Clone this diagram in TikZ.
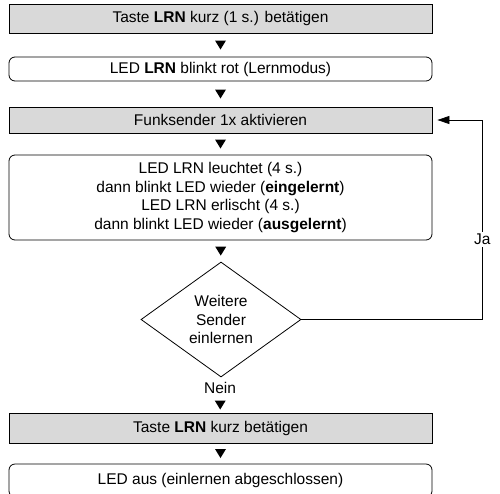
\documentclass[tikz,border=0pt]{standalone}
\usepackage{fontspec}
\setmainfont{Liberation Sans}
\usetikzlibrary{arrows.meta,shapes.geometric,positioning}

\begin{document}
\begin{tikzpicture}[x=1pt, y=-1pt, line width=0.8pt,
  every node/.style={font=\fontsize{15.5}{18.5}\selectfont},
  taste/.style={draw, fill=black!15, minimum width=423pt, inner sep=0pt},
  anzeige/.style={draw, rounded corners=6pt, minimum width=423pt, inner sep=0pt, align=center},
  frage/.style={draw, diamond, aspect=1.4, minimum width=160pt, minimum height=115pt, inner sep=0pt, align=center},
  tri/.style={minimum width=11pt, minimum height=9pt, inner sep=0pt,
    path picture={\fill (path picture bounding box.north west) -- (path picture bounding box.north east) -- (path picture bounding box.south) -- cycle;}}]
\useasboundingbox (0,0) rectangle (500,493);
\node[taste, minimum height=29pt] (lrn) at (220.5,18.5) {Taste \textbf{LRN} kurz (1 s.) betätigen};
\node[anzeige, minimum height=24pt] (lern) at (220.5,69) {LED \textbf{LRN} blinkt rot (Lernmodus)};
\node[taste, minimum height=26pt] (funk) at (220.5,120) {Funksender 1x aktivieren};
\node[anzeige, minimum height=85pt] (led) at (220.5,197.5) {LED LRN leuchtet (4 s.)\\dann blinkt LED wieder (\textbf{eingelernt})\\LED LRN erlischt (4 s.)\\dann blinkt LED wieder (\textbf{ausgelernt})};
\node[frage] (weiter) at (221,319.5) {Weitere\\Sender\\einlernen};
\node (nein) at (220,388) {Nein};
\node[taste, minimum height=30pt] (ende) at (220.5,428) {Taste \textbf{LRN} kurz betätigen};
\node[anzeige, minimum height=33pt] (aus) at (220.5,480.5) {LED aus (einlernen abgeschlossen)};
% Pfeile
\path (lrn) -- node[tri]{} (lern);
\path (lern) -- node[tri]{} (funk);
\path (funk) -- node[tri]{} (led);
\path (led) -- node[tri]{} (weiter);
\path (nein) -- node[tri]{} (ende);
\path (ende) -- node[tri]{} (aus);
\draw[-{Triangle[length=12pt,width=8pt]}] (weiter.east) -- ++(181,0) |- node[pos=0.2, fill=white, inner sep=2pt]{Ja} ([xshift=5pt]funk.east);
\end{tikzpicture}
\end{document}
